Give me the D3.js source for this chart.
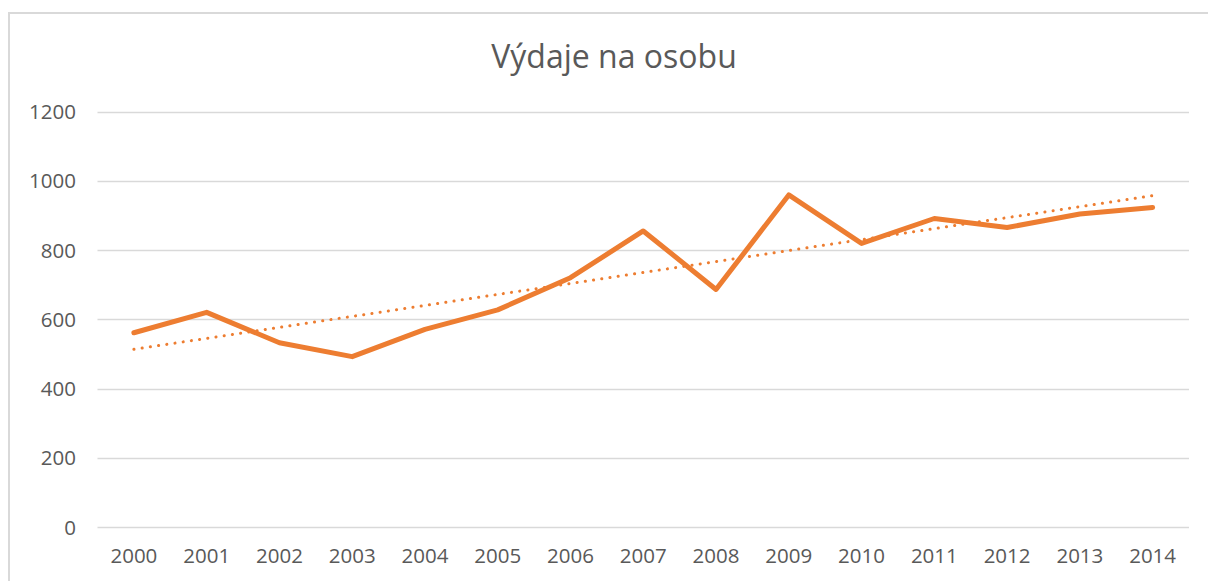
<!DOCTYPE html>
<html>
<head>
<meta charset="utf-8">
<script src="https://cdn.jsdelivr.net/npm/d3@7"></script>
<style>
  html, body { margin: 0; padding: 0; background: #fff; }
  svg { display: block; }
  text { font-family: "Open Sans", sans-serif; fill: #595959; }
</style>
</head>
<body>
<svg id="chart" width="1208" height="581"></svg>
<script>
const title = "Výdaje na osobu";
const years = ["2000","2001","2002","2003","2004","2005","2006","2007","2008","2009","2010","2011","2012","2013","2014"];
const values = [561, 620, 532, 492, 571, 627, 720, 855, 686, 959, 819, 891, 865, 904, 923];
const yTicks = [0, 200, 400, 600, 800, 1000, 1200];

const svg = d3.select("#chart");
const W = 1208, H = 581;
const margin = {left: 97.5, right: 1208 - 1189, top: 111.5, bottom: H - 527};

// chart border (left and top visible)
svg.append("path")
  .attr("d", `M9,${H + 5} L9,13 L${W + 5},13`)
  .attr("fill", "none")
  .attr("stroke", "#d9d9d9")
  .attr("stroke-width", 2);

const x = d3.scaleBand().domain(years).range([margin.left, W - margin.right]);
const y = d3.scaleLinear().domain([0, 1200]).range([H - margin.bottom, margin.top]);
const cx = d => x(d) + x.bandwidth() / 2;

// gridlines
svg.append("g")
  .selectAll("line")
  .data(yTicks)
  .join("line")
  .attr("x1", margin.left)
  .attr("x2", W - margin.right)
  .attr("y1", d => Math.round(y(d)) + 0.5)
  .attr("y2", d => Math.round(y(d)) + 0.5)
  .attr("stroke", "#d9d9d9")
  .attr("stroke-width", 1.5);

// y axis labels
const yAxis = d3.axisLeft(y).tickValues(yTicks).tickFormat(d3.format("d")).tickSize(0).tickPadding(0);
const gy = svg.append("g").attr("transform", `translate(76,0)`).call(yAxis);
gy.select(".domain").remove();
gy.selectAll("text").style("font-size", "20.5px").attr("fill", "#595959")
  .style("font-family", "'Open Sans', sans-serif").attr("dy", "0.35em");

// x axis labels
const xAxis = d3.axisBottom(x).tickSize(0).tickPadding(0);
const gx = svg.append("g").attr("transform", `translate(0,${H - margin.bottom + 21})`).call(xAxis);
gx.select(".domain").remove();
gx.selectAll("text").style("font-size", "20.5px").attr("fill", "#595959")
  .style("font-family", "'Open Sans', sans-serif");

// trendline (linear regression)
const xs = years.map((_, i) => i);
const mx = d3.mean(xs), my = d3.mean(values);
const slope = d3.sum(xs, (xi, i) => (xi - mx) * (values[i] - my)) / d3.sum(xs, xi => (xi - mx) ** 2);
const icpt = my - slope * mx;
const trend = [0, years.length - 1].map(i => ({yr: years[i], v: icpt + slope * i}));
svg.append("path")
  .datum(trend)
  .attr("d", d3.line().x(d => cx(d.yr)).y(d => y(d.v)))
  .attr("fill", "none")
  .attr("stroke", "#ED7D31")
  .attr("stroke-width", 3)
  .attr("stroke-linecap", "round")
  .attr("stroke-dasharray", "0.1 8.2");

// main line
svg.append("path")
  .datum(values)
  .attr("d", d3.line().x((d, i) => cx(years[i])).y(d => y(d)))
  .attr("fill", "none")
  .attr("stroke", "#ED7D31")
  .attr("stroke-width", 5)
  .attr("stroke-linejoin", "round")
  .attr("stroke-linecap", "round");

// title
svg.append("text")
  .attr("x", 614)
  .attr("y", 68)
  .attr("text-anchor", "middle")
  .style("font-size", "32px")
  .text(title);
</script>
</body>
</html>
